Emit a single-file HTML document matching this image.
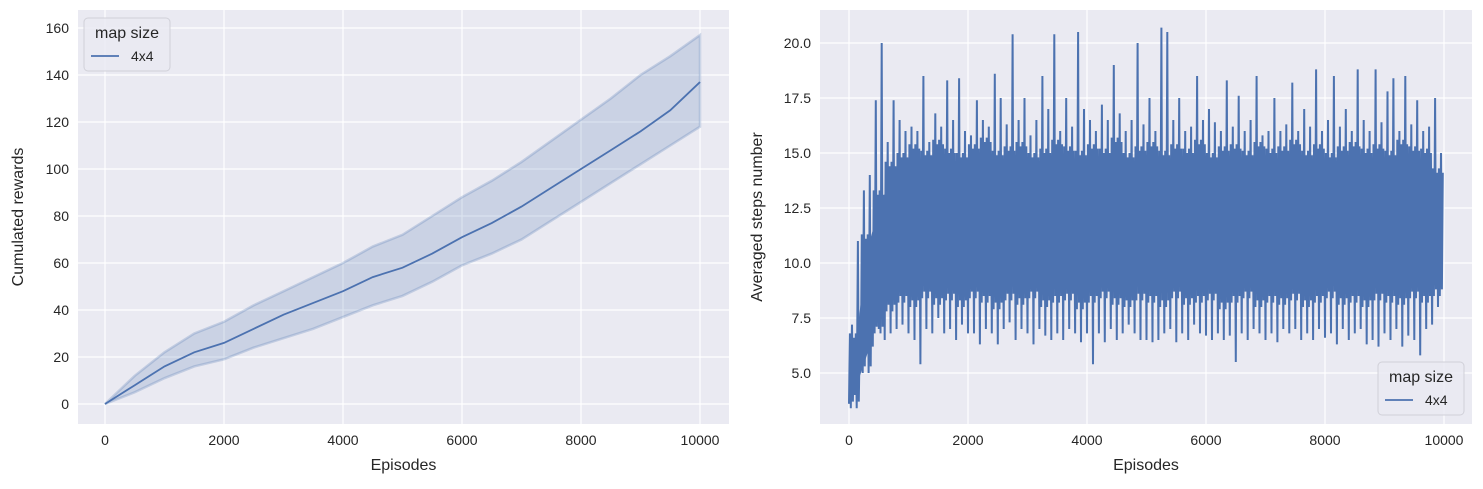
<!DOCTYPE html>
<html><head><meta charset="utf-8"><style>
body{margin:0;background:#fff;font-family:"Liberation Sans","DejaVu Sans",sans-serif}
svg text{font-family:"Liberation Sans","DejaVu Sans",sans-serif;fill:#262626}
</style></head><body>
<svg id="c" width="1483" height="484"></svg>
<script>
const xTicks=[0,2000,4000,6000,8000,10000];
const leftYTicks=[0,20,40,60,80,100,120,140,160];
const rightYTicks=[5.0,7.5,10.0,12.5,15.0,17.5,20.0];
const cumEpisodes=[0,500,1000,1500,2000,2500,3000,3500,4000,4500,5000,5500,6000,6500,7000,7500,8000,8500,9000,9500,10000];
const cumMean=[0,8,16,22,26,32,38,43,48,54,58,64,71,77,84,92,100,108,116,125,137];
const cumUpper=[0,12,22,30,35,42,48,54,60,67,72,80,88,95,103,112,121,130,140,148,157];
const cumLower=[0,5,11,16,19,24,28,32,37,42,46,52,59,64,70,78,86,94,102,110,118];
const stepsHigh=[7.2,11,13.3,14,17.4,20,15.5,17.4,16.5,16,16.2,16,18.5,15.5,16.8,16.2,18.3,16.5,18.4,16,15.8,17.4,16.5,16.2,18.6,17.5,16.3,20.4,16.5,17.5,15.8,16.5,18.5,17,20.4,16,17.5,16.2,20.5,17,16.5,16,17.2,16.5,19,16.8,16,16.5,20,16.3,17.5,16,20.7,20.5,16.5,17.5,16,16.2,18.5,16.5,17,16.4,16,18.3,16.2,17.6,16,16.5,18.5,15.8,16,17.5,16,16.3,18.2,16,17,16.2,18.8,16,16.5,18.5,16.2,17,16,18.8,16.5,16,18.8,16.4,17.8,18.4,16,18.5,16.3,17.4,16,16.2,17.5,15];
const stepsLow=[3.6,4,5.5,6.8,6.2,7,6.5,6.8,7,7.2,6.8,6.5,5.4,7,6.8,7.5,6.8,7,6.5,7.2,6.8,6.8,6.3,7,6.8,6.3,7,7.3,6.5,7,6.8,6.3,7,6.7,6.5,6.8,6.5,7,6.8,6.4,6.8,5.4,6.8,6.4,7,6.5,6.8,7.2,6.8,6.5,6.5,6.4,6.5,6.8,7,6.4,6.8,6.5,7.2,6.8,6.7,6.5,6.8,6.5,6.7,5.5,6.8,6.5,7,6.8,6.5,6.8,6.4,7,6.8,7,6.5,6.8,6.5,7,6.6,6.8,6.3,7,6.5,6.8,7,6.3,6.5,6.2,6.8,6.5,7,6.2,6.7,6.5,5.8,7,7.2,8];
const coreHigh=[6,10.5,12.5,13.8,14.2,14.6,14.3,14.8,14.4,14.2,14.6,14.9,14.3,14.5,14.7,14.2,14.4,14.8,14.5,14.3,14.6,14.4,14.9,14.2,14.5,14.7,14.3,14.6,14.4,14.8,14.2,14.5,14.6,14.3,14.7,14.4,14.5,14.8,14.3,14.6,14.2,14.5,14.7,14.4,14.6,14.3,14.8,14.5,14.4,13.5];
const coreLow=[4.2,5.8,7.6,8.6,9,8.8,9.2,8.9,9.1,8.8,9.2,9,8.7,9.1,8.9,9.2,8.8,9,9.1,8.7,9,9.2,8.9,8.8,9.1,9,8.8,9.2,8.9,9,9.1,8.7,9,9.2,8.8,9,8.9,9.1,8.8,9,9.2,8.9,9,8.8,9.1,9,8.9,9.2,9,9.3];

const NS='http://www.w3.org/2000/svg';
const svg=document.getElementById('c');
function mk(tag,attrs,parent){const e=document.createElementNS(NS,tag);for(const k in attrs)e.setAttribute(k,attrs[k]);(parent||svg).appendChild(e);return e;}
function txt(s,attrs,parent){const e=mk('text',attrs,parent);e.textContent=s;return e;}
const BLUE='#4c72b0';

function axes(prefix,L,R,T,B,xs,ys,yTicks,fmt,ylabel){
  const g=mk('g',{});
  
  
  const bg=mk('rect',{x:L,y:T,width:R-L,height:B-T,fill:'#eaeaf2'},g);
  
  
  xTicks.forEach(v=>{const x=xs(v);mk('line',{x1:x,x2:x,y1:T,y2:B,stroke:'#fff','stroke-width':1.2},g);
    const t=txt(String(v),{x:x,y:B+21,'font-size':14,'text-anchor':'middle'},g);
    
    });
  yTicks.forEach(v=>{const y=ys(v);mk('line',{x1:L,x2:R,y1:y,y2:y,stroke:'#fff','stroke-width':1.2},g);
    const t=txt(fmt(v),{x:L-9,y:y+5,'font-size':14,'text-anchor':'end'},g);
    
    });
  const xl=txt('Episodes',{x:(L+R)/2,y:B+46,'font-size':16,'text-anchor':'middle'},g);
  
  
  const cx=prefix==='left'?23:762;
  const yl=txt(ylabel,{x:cx,y:(T+B)/2,'font-size':16,'text-anchor':'middle',transform:`rotate(-90 ${cx} ${(T+B)/2})`},g);
  
  
  return g;
}
function legend(prefix,x,y){
  const g=mk('g',{});
  
  
  mk('rect',{x:x,y:y,width:86,height:53,rx:4,fill:'#eaeaf2',stroke:'#d0d0d8','stroke-width':1,'fill-opacity':0.85},g);
  txt('map size',{x:x+43,y:y+20,'font-size':16,'text-anchor':'middle'},g);
  mk('line',{x1:x+7,x2:x+35,y1:y+38,y2:y+38,stroke:BLUE,'stroke-width':1.8},g);
  txt('4x4',{x:x+47,y:y+43,'font-size':14},g);
}

(function(){
  const L=78,R=729,T=10,B=424;
  const xs=v=>105+(v/10000)*595;
  const ys=v=>404-(v/20)*47;
  axes('left',L,R,T,B,xs,ys,leftYTicks,v=>String(v),'Cumulated rewards');
  let d='';
  cumEpisodes.forEach((e,i)=>{d+=(i?'L':'M')+xs(e)+','+ys(cumUpper[i]);});
  for(let i=cumEpisodes.length-1;i>=0;i--)d+='L'+xs(cumEpisodes[i])+','+ys(cumLower[i]);
  const band=mk('path',{d:d+'Z',fill:BLUE,'fill-opacity':0.2,stroke:BLUE,'stroke-opacity':0.25,'stroke-width':2.5});
  
  
  let m='';
  cumEpisodes.forEach((e,i)=>{m+=(i?'L':'M')+xs(e)+','+ys(cumMean[i]);});
  const line=mk('path',{d:m,fill:'none',stroke:BLUE,'stroke-width':1.8});
  
  
  legend('left',84,18);
})();

(function(){
  const L=820,R=1472,T=10,B=424;
  const xs=v=>849+(v/10000)*595;
  const ys=v=>373-((v-5)/2.5)*55;
  axes('right',L,R,T,B,xs,ys,rightYTicks,v=>v.toFixed(1),'Averaged steps number');
  const n=stepsHigh.length, w=10000/n;
  const cn=coreHigh.length, cw=10000/cn;
  let cb='';
  for(let i=0;i<cn;i++)cb+=(i?'L':'M')+xs(i*cw+cw/2)+','+ys(coreHigh[i]);
  for(let i=cn-1;i>=0;i--)cb+='L'+xs(i*cw+cw/2)+','+ys(coreLow[i]);
  const core=mk('path',{d:'M'+xs(0)+','+ys(coreHigh[0])+cb.replace(/^M/,'L')+'L'+xs(0)+','+ys(coreLow[0])+'Z',fill:BLUE});
  
  
  let d='';
  for(let i=0;i<n;i++){
    const e0=i*w, c=Math.min(cn-1,Math.floor(i*cn/n));
    const pts=[[e0,stepsLow[i]],[e0+w*0.15,coreHigh[c]+0.8],[e0+w*0.3,coreLow[c]-0.8],[e0+w*0.5,stepsHigh[i]],[e0+w*0.65,coreLow[c]-0.5],[e0+w*0.8,coreHigh[c]+0.6]];
    pts.forEach((p,j)=>{d+=((i||j)?'L':'M')+xs(p[0]).toFixed(1)+','+ys(p[1]).toFixed(1);});
  }
  const line=mk('path',{d:d,fill:'none',stroke:BLUE,'stroke-width':2,'stroke-linejoin':'miter'});
  
  
  legend('right',1378,362);
})();
</script>
</body></html>
